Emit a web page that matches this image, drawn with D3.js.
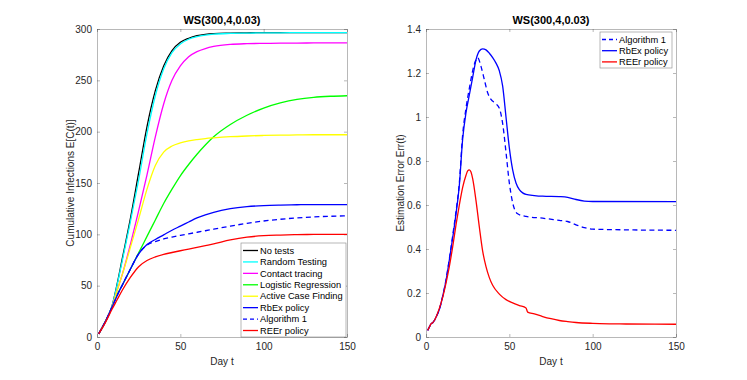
<!DOCTYPE html>
<html><head><meta charset="utf-8">
<script src="https://cdn.jsdelivr.net/npm/d3@7"></script>
<style>
body{margin:0;background:#fff;}
svg{display:block;font-family:"Liberation Sans",Arial,sans-serif;}
</style></head>
<body><svg id="c" width="747" height="380"></svg>
<script>
// ---------- data: left panel (cumulative infections) ----------
const leftDays = [1,5,9,12,15,20,25,30,35,40,45,50,55,60,65,70,80,90,100,110,120,130,140,150];
const noTests       = [3,15,30,51,75,115,160,205,240,264,279,287,291,293.5,294.8,295.5,296,296.3,296.5,296.5,296.5,296.5,296.5,296.5];
const randomTesting = [3,15,30,50,73,112,153,198,235,261,277,285.5,290,292.5,294,295,295.7,296,296.2,296.3,296.4,296.4,296.4,296.4];
const contactTracing= [3,15,29,45,60,90,123,158,195,227,250,264,273,278,281,283,285,285.7,286,286.2,286.3,286.4,286.4,286.4];
const logisticReg   = [3,15,29,41,50,66,82,98,114,130,144,157,168,178,187,195,207,216,223,228,231.5,233.5,234.5,235];
const activeCase    = [3,15,29,45,60,87,115,144,167,180,186,189,191,192.3,193.3,194,195.1,195.8,196.3,196.6,196.8,197,197,197];
const rbexCum       = [3,15,29,40,50,66,81,90,95,99.5,104,108,112,116,119,121.5,125,127,128,128.5,128.8,129,129,129];
const alg1Cum       = [3,15,29,40,50,66,81,89.5,93,95.5,97.3,99,100.5,102,103.5,105,108,110.7,113,114.7,116,117,117.6,118];
const reerCum       = [3,14,27,36,45,58,68.5,74.5,78,80.5,82.3,84,85.6,87.3,89,90.7,94.5,97.2,98.7,99.3,99.7,99.9,100,100];
const leftNames = ["No tests","Random Testing","Contact tracing","Logistic Regression","Active Case Finding","RbEx policy","Algorithm 1","REEr policy"];
const leftColors = ["#000000","#00ffff","#ff00ff","#00ff00","#ffff00","#0000ff","#0000ff","#ff0000"];
const leftDashed = [false,false,false,false,false,false,true,false];

// ---------- data: right panel (estimation error) ----------
const reerErrDays = [1,2,3,4,5,6,8,10,12,14,16,18,20,22,24,25,26,27,28,30,32,34,36,38,40,44,48,52,56,60,61,65,70,75,80,85,90,100,110,120,150];
const reerErr     = [0.03,0.045,0.06,0.065,0.075,0.09,0.13,0.18,0.245,0.32,0.41,0.51,0.6,0.68,0.735,0.755,0.76,0.75,0.72,0.62,0.5,0.39,0.32,0.27,0.235,0.195,0.17,0.155,0.143,0.132,0.113,0.105,0.093,0.083,0.075,0.07,0.066,0.062,0.06,0.059,0.058];
const rbexErrDays = [1,2,3,4,5,6,8,10,12,14,16,18,20,22,24,26,28,30,32,34,36,38,40,42,44,46,48,50,52,54,56,58,60,65,70,80,85,90,95,100,150];
const rbexErr     = [0.03,0.045,0.06,0.065,0.075,0.09,0.125,0.185,0.255,0.35,0.45,0.56,0.69,0.9,1.02,1.1,1.18,1.26,1.3,1.31,1.305,1.29,1.27,1.245,1.21,1.14,1.0,0.86,0.76,0.7,0.67,0.655,0.648,0.643,0.64,0.638,0.635,0.625,0.618,0.616,0.615];
const alg1ErrDays = [1,2,3,4,5,6,8,10,12,14,16,18,20,22,24,26,28,30,31,33,35,37,39,42,44,46,48,50,52,55,60,70,80,85,90,95,100,150];
const alg1Err     = [0.03,0.045,0.06,0.065,0.075,0.09,0.125,0.185,0.26,0.355,0.46,0.57,0.7,0.92,1.04,1.13,1.21,1.26,1.27,1.23,1.17,1.11,1.08,1.06,1.04,0.97,0.84,0.7,0.61,0.56,0.548,0.54,0.53,0.525,0.51,0.497,0.49,0.485];
const rightNames = ["Algorithm 1","RbEx policy","REEr policy"];

const xTicks = [0,50,100,150];
const yTicksLeft = [0,50,100,150,200,250,300];
const yTicksRight = [0,0.2,0.4,0.6,0.8,1,1.2,1.4];
const titleText = "WS(300,4,0.03)";

// ---------- drawing ----------
const svg = d3.select("#c");
const axisCol = "#262626", boxCol = "#262626";
const font = "Liberation Sans, Arial, sans-serif";

function panel(opt){
  const x = d3.scaleLinear().domain([0,150]).range([opt.x0,opt.x1]);
  const y = d3.scaleLinear().domain(opt.ydom).range([opt.y1,opt.y0]);
  const g = svg.append("g");
  const fmt = opt.fmt;
  const ab = g.append("g").attr("transform",`translate(0,${opt.y1})`)
    .call(d3.axisBottom(x).tickValues(xTicks).tickSize(-3).tickPadding(6).tickSizeOuter(0));
  const at = g.append("g").attr("transform",`translate(0,${opt.y0})`)
    .call(d3.axisTop(x).tickValues(xTicks).tickSize(-3).tickFormat("").tickSizeOuter(0));
  const al = g.append("g").attr("transform",`translate(${opt.x0},0)`)
    .call(d3.axisLeft(y).tickValues(opt.yticks).tickSize(-3).tickPadding(5).tickFormat(fmt).tickSizeOuter(0));
  const ar = g.append("g").attr("transform",`translate(${opt.x1},0)`)
    .call(d3.axisRight(y).tickValues(opt.yticks).tickSize(-3).tickFormat("").tickSizeOuter(0));
  [ab,at,al,ar].forEach(a=>{
    a.select(".domain").attr("stroke",boxCol).attr("stroke-width",0.6).attr("stroke-opacity",0.55);
    a.selectAll(".tick line").attr("stroke",axisCol).attr("stroke-width",0.6).attr("stroke-opacity",0.55);
    a.selectAll("text").attr("fill",axisCol).attr("font-size",10).attr("font-family",font);
  });
  g.append("text").attr("x",(opt.x0+opt.x1)/2).attr("y",24).attr("text-anchor","middle")
    .attr("font-weight","bold").attr("font-size",11).attr("font-family",font).attr("fill","#000").text(titleText);
  g.append("text").attr("x",(opt.x0+opt.x1)/2).attr("y",365).attr("text-anchor","middle")
    .attr("font-size",10).attr("font-family",font).attr("fill",axisCol).text("Day t");
  g.append("text").attr("transform",`translate(${opt.ylabx},${(opt.y0+opt.y1)/2}) rotate(-90)`)
    .attr("text-anchor","middle").attr("font-size",10).attr("font-family",font).attr("fill",axisCol).text(opt.ylabel);
  const line = d3.line().x(d=>x(d[0])).y(d=>y(d[1])).curve(d3.curveMonotoneX);
  const lines = g.append("g");
  opt.series.forEach(s=>{
    lines.append("path").datum(s.t.map((t,i)=>[t,s.v[i]]))
      .attr("d",line).attr("fill","none").attr("stroke",s.color).attr("stroke-width",1.3)
      .attr("stroke-dasharray",s.dash?"5,3.5":null).attr("stroke-linejoin","round");
  });
  const lg = g.append("g");
  const L = opt.legend;
  lg.append("rect").attr("x",L.x).attr("y",L.y).attr("width",L.w).attr("height",L.h)
    .attr("fill","#fff").attr("stroke","#262626").attr("stroke-opacity",0.55).attr("stroke-width",0.6);
  L.items.forEach((it,i)=>{
    const yy = L.y + L.first + i*L.step;
    lg.append("line").attr("x1",L.x+2).attr("x2",L.x+17).attr("y1",yy).attr("y2",yy)
      .attr("stroke",it.color).attr("stroke-width",1.3).attr("stroke-dasharray",it.dash?"4,3":null);
    lg.append("text").attr("x",L.x+19).attr("y",yy).attr("dy","0.35em")
      .attr("font-size",9.3).attr("font-family",font).attr("fill","#000").text(it.name);
  });
}

const leftVals = [noTests,randomTesting,contactTracing,logisticReg,activeCase,rbexCum,alg1Cum,reerCum];
const leftSeries = leftVals.map((v,i)=>({t:leftDays,v:v,color:leftColors[i],dash:leftDashed[i],name:leftNames[i]}));
panel({x0:97,x1:347,y0:29,y1:337,ydom:[0,300],yticks:yTicksLeft,fmt:d3.format("d"),
  ylabel:"Cumulative Infections E[C(t)]",ylabx:74,series:leftSeries,
  legend:{x:241,y:243,w:105,h:94,first:7.5,step:11.43,items:leftSeries}});

const rightSeries = [
  {t:rbexErrDays,v:rbexErr,color:"#0000ff",dash:false,name:rightNames[1]},
  {t:alg1ErrDays,v:alg1Err,color:"#0000ff",dash:true,name:rightNames[0]},
  {t:reerErrDays,v:reerErr,color:"#ff0000",dash:false,name:rightNames[2]}
];
panel({x0:426,x1:676,y0:29,y1:337,ydom:[0,1.4],yticks:yTicksRight,fmt:d=>d3.format("")(+d.toFixed(1)),
  ylabel:"Estimation Error Err(t)",ylabx:404,series:rightSeries,
  legend:{x:600,y:32,w:72,h:36,first:7.5,step:11.2,items:[rightSeries[1],rightSeries[0],rightSeries[2]]}});
</script></body></html>
